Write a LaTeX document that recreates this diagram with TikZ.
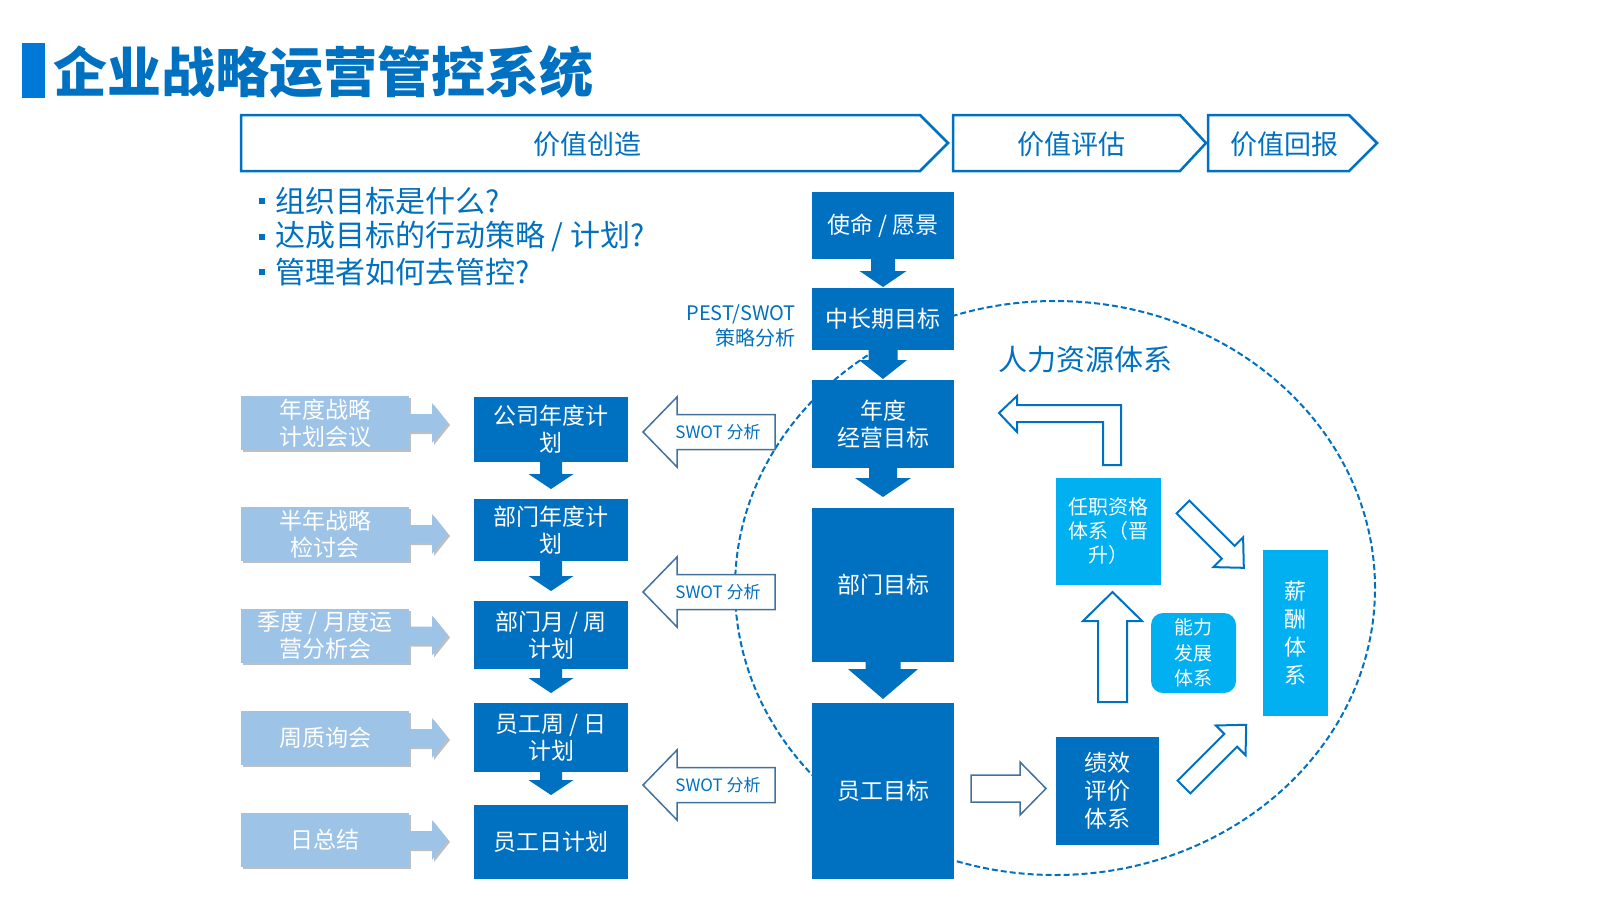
\documentclass[tikz,border=0pt]{standalone}
\usepackage{fontspec}
\setmainfont{Noto Sans CJK SC}
\usepackage{tikz}
\usepackage{xcolor}
\usetikzlibrary{calc,shadows}

\definecolor{dkblue}{RGB}{0,112,192}
\definecolor{barblue}{RGB}{0,120,215}
\definecolor{ltblue}{RGB}{157,195,230}
\definecolor{skyblue}{RGB}{0,176,240}
\definecolor{edgeblue}{RGB}{65,113,156}
\definecolor{shadowgray}{RGB}{191,191,191}

\tikzset{
	callshadow/.style={drop shadow={shadow xshift=2pt,shadow yshift=-2pt,opacity=1,fill=shadowgray}},
	dkbox/.style={rectangle,fill=dkblue,text=white,inner sep=0pt,outer sep=0pt,align=center,font=\fontsize{23}{27}\selectfont},
	ltbox/.style={rectangle,fill=ltblue,text=white,inner sep=0pt,outer sep=0pt,align=center,minimum width=168pt,minimum height=54pt,font=\fontsize{23}{27}\selectfont,callshadow},
	skybox/.style={rectangle,fill=skyblue,text=white,inner sep=0pt,outer sep=0pt,align=center,font=\fontsize{20}{24}\selectfont},
	bluetext/.style={text=dkblue,inner sep=0pt},
	chev/.style={draw=dkblue,fill=white,line width=2.5pt},
	hollow/.style={draw=dkblue,fill=white,line width=2pt},
	swotarrow/.style={draw=edgeblue,fill=white,line width=1.5pt},
	pics/blkarrow/.style args={#1/#2/#3/#4}{code={
		\path[pic actions] (0,{-#2/2}) -- ({#1-#4},{-#2/2}) -- ({#1-#4},{-#3/2}) -- (#1,0) -- ({#1-#4},{#3/2}) -- ({#1-#4},{#2/2}) -- (0,{#2/2}) -- cycle;
	}},
}

\newcommand{\downblk}[6]{%
	\fill[dkblue] ($(#1.south)+(-#3,0)$) -- ($(#2.north)+(-#3,-#6-#5)$) -- ($(#2.north)+(-#4,-#6-#5)$) -- ($(#2.north)+(0,-#6)$) -- ($(#2.north)+(#4,-#6-#5)$) -- ($(#2.north)+(#3,-#6-#5)$) -- ($(#1.south)+(#3,0)$) -- cycle;}

\newcommand{\callarrow}[1]{%
	\fill[ltblue,callshadow] ($(#1.east)+(0,-9)$) -- ++(23,0) -- ++(0,-11) -- ($(#1.east)+(39,0)$) -- ($(#1.east)+(23,20)$) -- ++(0,-11) -- ($(#1.east)+(0,9)$) -- cycle;}

\begin{document}
\begin{tikzpicture}[x=1pt,y=-1pt]
	\useasboundingbox (0,0) rectangle (1600,900);

	\draw[dkblue,line width=2pt,dash pattern=on 6pt off 3pt] (1055,588) ellipse [x radius=320pt,y radius=287pt];

	\fill[barblue] (22,43) rectangle (45,98);
	\node[bluetext,anchor=west,font=\fontsize{54}{56}\selectfont\bfseries] (title) at (53,72) {企业战略运营管控系统};

	\draw[chev] (241,115) -- (920,115) -- (948,143) -- (920,171) -- (241,171) -- cycle;
	\draw[chev] (953,115) -- (1180,115) -- (1206,143) -- (1180,171) -- (953,171) -- cycle;
	\draw[chev] (1208,115) -- (1349,115) -- (1377,143) -- (1349,171) -- (1208,171) -- cycle;
	\node[bluetext,font=\fontsize{27}{30}\selectfont] (create) at (587,144) {价值创造};
	\node[bluetext,font=\fontsize{27}{30}\selectfont] (assess) at (1071,144) {价值评估};
	\node[bluetext,font=\fontsize{27}{30}\selectfont] (reward) at (1284,144) {价值回报};

	\fill[dkblue] (259,198) rectangle (265,204);
	\fill[dkblue] (259,234) rectangle (265,240);
	\fill[dkblue] (259,269) rectangle (265,275);
	\node[bluetext,anchor=west,font=\fontsize{30}{32}\selectfont] (q1) at (275,201) {组织目标是什么?};
	\node[bluetext,anchor=west,font=\fontsize{30}{32}\selectfont] (q2) at (275,237) {达成目标的行动策略 / 计划?};
	\node[bluetext,anchor=west,font=\fontsize{30}{32}\selectfont] (q3) at (275,272) {管理者如何去管控?};

	\node[dkbox,minimum width=142pt,minimum height=67pt] (mission) at (883,225.5) {使命 / 愿景};
	\node[dkbox,minimum width=142pt,minimum height=62pt] (midterm) at (883,319) {中长期目标};
	\node[dkbox,minimum width=142pt,minimum height=88pt] (annual) at (883,424) {年度\\经营目标};
	\node[dkbox,minimum width=142pt,minimum height=154pt] (dept) at (883,585) {部门目标};
	\node[dkbox,minimum width=142pt,minimum height=176pt] (staff) at (883,791) {员工目标};
	\downblk{mission}{midterm}{12}{23.5}{16}{1}
	\downblk{midterm}{annual}{14.5}{24}{19}{1}
	\downblk{annual}{dept}{14}{28}{19}{11}
	\downblk{dept}{staff}{17.5}{35}{30}{4}

	\node[bluetext,anchor=east,align=right,font=\fontsize{20}{25}\selectfont] (pest) at (796,325.5) {PEST/SWOT\\策略分析};

	\node[dkbox,minimum width=154pt,minimum height=65pt] (plan1) at (551,429.5) {公司年度计\\划};
	\node[dkbox,minimum width=154pt,minimum height=62pt] (plan2) at (551,530) {部门年度计\\划};
	\node[dkbox,minimum width=154pt,minimum height=68pt] (plan3) at (551,635) {部门月 / 周\\计划};
	\node[dkbox,minimum width=154pt,minimum height=69pt] (plan4) at (551,737.5) {员工周 / 日\\计划};
	\node[dkbox,minimum width=154pt,minimum height=74pt] (plan5) at (551,842) {员工日计划};
	\downblk{plan1}{plan2}{11}{22.5}{15}{10}
	\downblk{plan2}{plan3}{11}{22.5}{15}{10}
	\downblk{plan3}{plan4}{11}{22.5}{15}{10}
	\downblk{plan4}{plan5}{11}{22.5}{15}{10}

	\node[ltbox] (meet1) at (325,423) {年度战略\\计划会议};
	\callarrow{meet1}
	\node[ltbox] (meet2) at (325,534) {半年战略\\检讨会};
	\callarrow{meet2}
	\node[ltbox] (meet3) at (325,635.5) {季度 / 月度运\\营分析会};
	\callarrow{meet3}
	\node[ltbox] (meet4) at (325,738) {周质询会};
	\callarrow{meet4}
	\node[ltbox] (meet5) at (325,840) {日总结};
	\callarrow{meet5}

	\pic[swotarrow,rotate=180] at (775,432) {blkarrow=132/35/70/34};
	\pic[swotarrow,rotate=180] at (775,592) {blkarrow=132/35/70/34};
	\pic[swotarrow,rotate=180] at (775,785) {blkarrow=132/35/70/34};
	\node[bluetext,font=\fontsize{17}{20}\selectfont] (swot1) at (718,432) {SWOT 分析};
	\node[bluetext,font=\fontsize{17}{20}\selectfont] (swot2) at (718,592) {SWOT 分析};
	\node[bluetext,font=\fontsize{17}{20}\selectfont] (swot3) at (718,785) {SWOT 分析};

	\node[bluetext,anchor=east,font=\fontsize{29}{32}\selectfont] (hrlabel) at (1173,360) {人力资源体系};

	\node[skybox,minimum width=105pt,minimum height=107pt] (qual) at (1108.5,531.5) {任职资格\\体系（晋\\升）};
	\node[skybox,rounded corners=12pt,minimum width=85pt,minimum height=80pt,font=\fontsize{19}{25.5}\selectfont] (grow) at (1193.5,653) {能力\\发展\\体系};
	\node[skybox,minimum width=65pt,minimum height=166pt,font=\fontsize{22}{28}\selectfont] (pay) at (1295.5,633) {薪\\酬\\体\\系};
	\node[dkbox,minimum width=103pt,minimum height=108pt,font=\fontsize{23}{28}\selectfont] (perf) at (1107.5,791) {绩效\\评价\\体系};

	\draw[hollow] (999,413) -- (1017,396) -- (1017,405) -- (1121,405) -- (1121,465) -- (1103,465) -- (1103,422) -- (1017,422) -- (1017,432) -- cycle;
	\pic[hollow,rotate=90] at (1112.5,702) {blkarrow=110/29/59/29};
	\pic[hollow,rotate=-45] at (1183,507) {blkarrow=86/18/42/22};
	\pic[hollow,rotate=45] at (1184,787) {blkarrow=88/18/42/22};
	\pic[swotarrow] at ($(staff.east)+(17,-2.5)$) {blkarrow=75/27/53/26};
\end{tikzpicture}
\end{document}
